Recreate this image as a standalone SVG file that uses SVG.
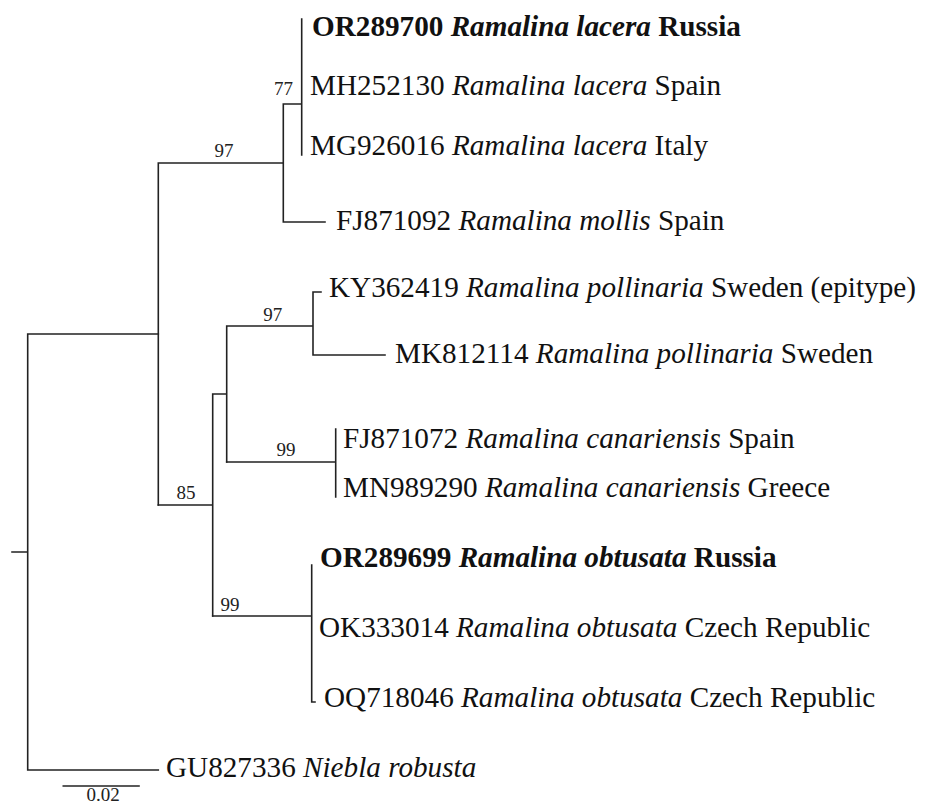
<svg xmlns="http://www.w3.org/2000/svg" width="928" height="805" viewBox="0 0 928 805">
<style>
.t{font-family:"Liberation Serif","Times New Roman",serif;font-size:29.2px;fill:#111}
.b{font-weight:bold}
.i{font-style:italic}
.s{font-family:"Liberation Serif","Times New Roman",serif;font-size:19px;fill:#222;text-anchor:middle}
.e{fill:none;stroke:#222;stroke-width:1.6;stroke-linecap:square}
</style>
<rect width="928" height="805" fill="#fff"/>
<g id="connectors">
<path class="e" d="M12 552H27.7M27.7 334V770M27.7 334H158.3M27.7 770H158.3"/>
<path class="e" d="M158.3 163V505M158.3 163H283.3M283.3 104V222M283.3 104H301.7M301.7 19V155M283.3 222H325"/>
<path class="e" d="M158.3 505H212.7M212.7 394V616M212.7 394H226.7M226.7 326V462M226.7 326H313M313 292V355M313 292H321M313 355H385"/>
<path class="e" d="M226.7 462H335.7M335.7 429V497"/>
<path class="e" d="M212.7 616H311.7M311.7 565V702H315"/>
<path class="e" d="M63.3 786H139"/>
</g>
<g id="support">
<text class="s" x="283.5" y="95">77</text>
<text class="s" x="224" y="157">97</text>
<text class="s" x="272.7" y="321">97</text>
<text class="s" x="286" y="456">99</text>
<text class="s" x="186" y="499">85</text>
<text class="s" x="230" y="611">99</text>
<text class="s" x="103" y="801">0.02</text>
</g>
<g id="leaf-OR289700"><text class="t b" x="312" y="35.5">OR289700 <tspan class="i">Ramalina lacera</tspan> Russia</text></g>
<g id="leaf-MH252130"><text class="t" x="310" y="95">MH252130 <tspan class="i">Ramalina lacera</tspan> Spain</text></g>
<g id="leaf-MG926016"><text class="t" x="310" y="155">MG926016 <tspan class="i">Ramalina lacera</tspan> Italy</text></g>
<g id="leaf-FJ871092"><text class="t" x="336" y="230">FJ871092 <tspan class="i">Ramalina mollis</tspan> Spain</text></g>
<g id="leaf-KY362419"><text class="t" x="329" y="297">KY362419 <tspan class="i">Ramalina pollinaria</tspan> Sweden (epitype)</text></g>
<g id="leaf-MK812114"><text class="t" x="395" y="363">MK812114 <tspan class="i">Ramalina pollinaria</tspan> Sweden</text></g>
<g id="leaf-FJ871072"><text class="t" x="343" y="448">FJ871072 <tspan class="i">Ramalina canariensis</tspan> Spain</text></g>
<g id="leaf-MN989290"><text class="t" x="343" y="497">MN989290 <tspan class="i">Ramalina canariensis</tspan> Greece</text></g>
<g id="leaf-OR289699"><text class="t b" x="320" y="567">OR289699 <tspan class="i">Ramalina obtusata</tspan> Russia</text></g>
<g id="leaf-OK333014"><text class="t" x="319" y="637">OK333014 <tspan class="i">Ramalina obtusata</tspan> Czech Republic</text></g>
<g id="leaf-OQ718046"><text class="t" x="324" y="707">OQ718046 <tspan class="i">Ramalina obtusata</tspan> Czech Republic</text></g>
<g id="leaf-GU827336"><text class="t" x="166" y="777">GU827336 <tspan class="i">Niebla robusta</tspan></text></g>
</svg>
